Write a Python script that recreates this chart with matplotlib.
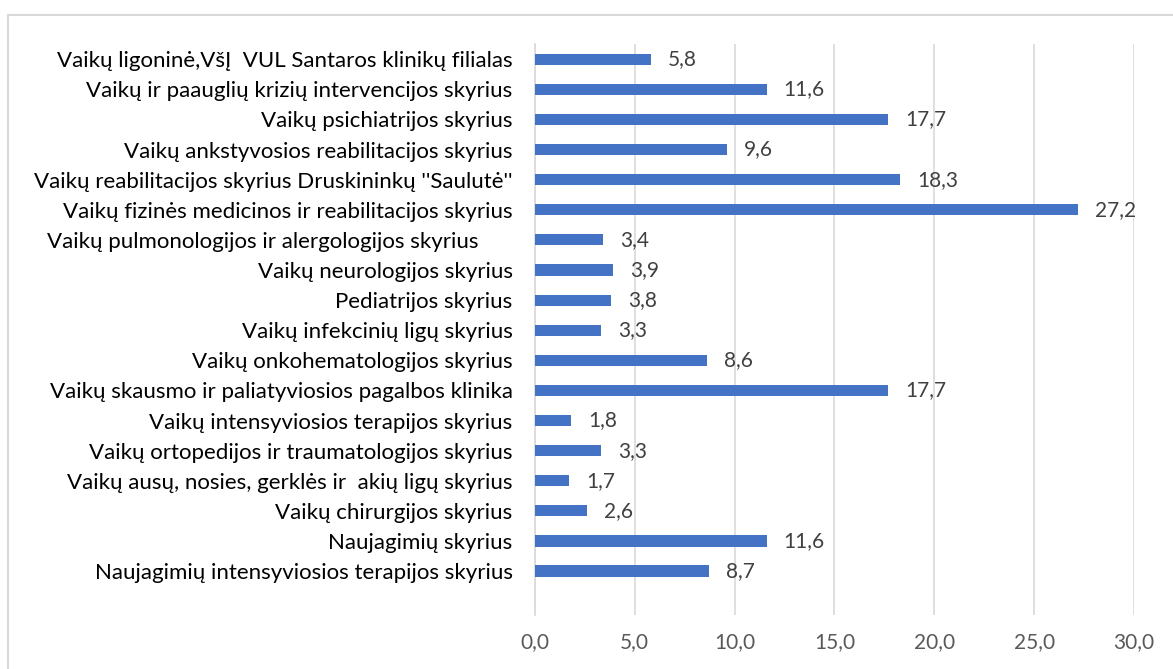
import matplotlib.pyplot as plt
from matplotlib.patches import Rectangle

categories = [
    'Naujagimių intensyviosios terapijos skyrius',
    'Naujagimių skyrius',
    'Vaikų chirurgijos skyrius',
    'Vaikų ausų, nosies, gerklės ir  akių ligų skyrius',
    'Vaikų ortopedijos ir traumatologijos skyrius',
    'Vaikų intensyviosios terapijos skyrius',
    'Vaikų skausmo ir paliatyviosios pagalbos klinika',
    'Vaikų onkohematologijos skyrius',
    'Vaikų infekcinių ligų skyrius',
    'Pediatrijos skyrius',
    'Vaikų neurologijos skyrius',
    'Vaikų pulmonologijos ir alergologijos skyrius      ',
    'Vaikų fizinės medicinos ir reabilitacijos skyrius',
    "Vaikų reabilitacijos skyrius Druskininkų ''Saulutė''",
    'Vaikų ankstyvosios reabilitacijos skyrius',
    'Vaikų psichiatrijos skyrius',
    'Vaikų ir paauglių krizių intervencijos skyrius',
    'Vaikų ligoninė,VšĮ  VUL Santaros klinikų filialas',
]
values = [8.7, 11.6, 2.6, 1.7, 3.3, 1.8, 17.7, 8.6, 3.3, 3.8, 3.9, 3.4,
          27.2, 18.3, 9.6, 17.7, 11.6, 5.8]
xticks = [0, 5, 10, 15, 20, 25, 30]

plt.rcParams['font.family'] = ['Lato', 'DejaVu Sans']

fig = plt.figure(figsize=(11.73, 6.69), dpi=100)
ax = fig.add_axes([0.456, 0.0807, 0.9668 - 0.456, 0.934 - 0.0807])

ypos = list(range(len(categories)))
ax.barh(ypos, values, height=0.37, color='#4472C4', zorder=3)

for y, v in zip(ypos, values):
    ax.text(v + 0.85, y, f'{v:.1f}'.replace('.', ','), va='center', ha='left',
            fontsize=15, color='#404040')

ax.set_xlim(0, 30)
ax.set_ylim(-1.46, 17.5)
ax.set_xticks(xticks)
ax.set_xticklabels([f'{t:.1f}'.replace('.', ',') for t in xticks],
                   fontsize=15, color='#595959')
ax.set_yticks(ypos)
ax.set_yticklabels(categories, fontsize=16, color='#000000')
ax.tick_params(axis='both', length=0)
ax.tick_params(axis='x', pad=12)
ax.tick_params(axis='y', pad=16)
ax.grid(axis='x', color='#D9D9D9', linewidth=1.2, zorder=0)
for s in ['top', 'right', 'bottom']:
    ax.spines[s].set_visible(False)
ax.spines['left'].set_color('#D9D9D9')
ax.spines['left'].set_linewidth(1.2)

# outer chart border (cropped at right and bottom)
fig.patches.append(Rectangle((8 / 1173, -0.05), 1.1, 1 - 15 / 669 + 0.05,
                             transform=fig.transFigure, fill=False,
                             edgecolor='#D9D9D9', linewidth=1.5))

fig.savefig('out.png', dpi=100)
